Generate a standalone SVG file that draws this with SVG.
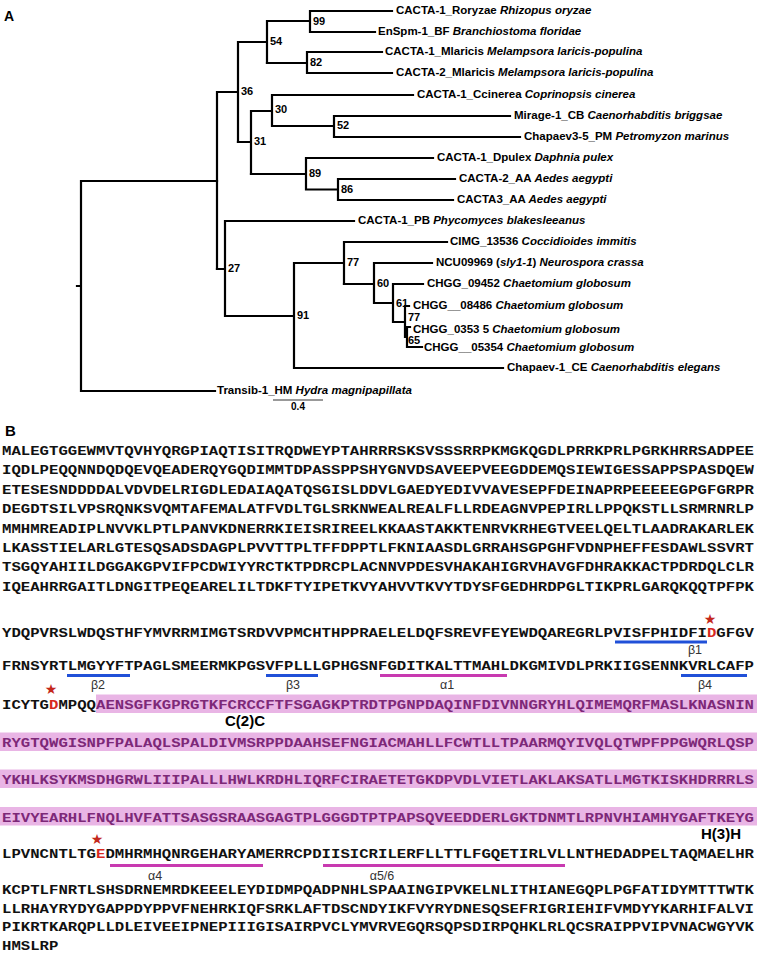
<svg xmlns="http://www.w3.org/2000/svg" width="757" height="955" viewBox="0 0 757 955">
<style>
.br{stroke:#000;stroke-width:2.2;fill:none;stroke-linecap:square}
.tx{font-family:"Liberation Sans",Arial,sans-serif;font-weight:bold;font-size:11.5px;fill:#000}
.sp{font-style:italic}
.bs{font-family:"Liberation Sans",Arial,sans-serif;font-weight:bold;font-size:11px;fill:#000}
.pl{font-family:"Liberation Sans",Arial,sans-serif;font-weight:bold;fill:#000}
.seq{font-family:"Liberation Mono","Courier New",monospace;font-weight:bold;font-size:12.5px;fill:#111}
.hl{fill:#e9b5e5}
.pk{fill:#7d2878}
.rd{fill:#d8281e}
.star{font-family:"DejaVu Sans",sans-serif;font-size:14px;fill:#c4281c;text-anchor:middle}
.lab{font-family:"Liberation Sans",Arial,sans-serif;font-size:12.5px;fill:#333;text-anchor:middle}
.bb{stroke:#2050d8;stroke-width:3}
.ab{stroke:#c83ab0;stroke-width:3}
</style>

<text class="pl" x="4" y="21" font-size="14">A</text>

<g id="branches">
<path class="br" d="M77,286H81M81,181V391M81,181H217M81,391H215"/>
<path class="br" d="M217,92V269M217,92H238M238,42V142M238,42H267M267,21V63M267,21H310M310,11V32M310,11H392M310,32H375"/>
<path class="br" d="M267,63H307M307,52V73M307,52H382M307,73H392"/>
<path class="br" d="M238,142H251M251,111V174M251,111H272M272,95V126M272,95H413M272,126H334M334,116V137M334,116H510M334,137H520"/>
<path class="br" d="M251,174H306M306,158V189.5M306,158H433M306,189.5H338M338,179V200M338,179H455M338,200H453"/>
<path class="br" d="M217,269H225M225,221V316M225,221H354M225,316H294M294,263V368M294,368H503M294,263H344M344,242V284M344,242H447"/>
<path class="br" d="M344,284H374M374,263V303M374,263H432M374,303H393M393,284V322M393,284H423M393,322H405M405,306V337M405,306H409M405,337H407M407,327V347M407,327H410M407,347H422"/>
<line x1="273" y1="400" x2="323" y2="400" stroke="#777" stroke-width="1.5"/>
</g>

<g id="scale"><text class="pl" x="298" y="410" font-size="10" fill="#333" text-anchor="middle">0.4</text></g>

<g id="t1"><text class="tx" x="396" y="14">CACTA-1_Roryzae <tspan class="sp">Rhizopus oryzae</tspan></text></g>
<g id="t2"><text class="tx" x="378" y="35">EnSpm-1_BF <tspan class="sp">Branchiostoma floridae</tspan></text></g>
<g id="t3"><text class="tx" x="385" y="55">CACTA-1_Mlaricis <tspan class="sp">Melampsora laricis-populina</tspan></text></g>
<g id="t4"><text class="tx" x="396" y="76">CACTA-2_Mlaricis <tspan class="sp">Melampsora laricis-populina</tspan></text></g>
<g id="t5"><text class="tx" x="417" y="98">CACTA-1_Ccinerea <tspan class="sp">Coprinopsis cinerea</tspan></text></g>
<g id="t6"><text class="tx" x="514" y="119">Mirage-1_CB <tspan class="sp">Caenorhabditis briggsae</tspan></text></g>
<g id="t7"><text class="tx" x="524" y="140">Chapaev3-5_PM <tspan class="sp">Petromyzon marinus</tspan></text></g>
<g id="t8"><text class="tx" x="437" y="161">CACTA-1_Dpulex <tspan class="sp">Daphnia pulex</tspan></text></g>
<g id="t9"><text class="tx" x="459" y="182">CACTA-2_AA <tspan class="sp">Aedes aegypti</tspan></text></g>
<g id="t10"><text class="tx" x="457" y="203">CACTA3_AA <tspan class="sp">Aedes aegypti</tspan></text></g>
<g id="t11"><text class="tx" x="358" y="224">CACTA-1_PB <tspan class="sp">Phycomyces blakesleeanus</tspan></text></g>
<g id="t12"><text class="tx" x="450" y="245">CIMG_13536 <tspan class="sp">Coccidioides immitis</tspan></text></g>
<g id="t13"><text class="tx" x="436" y="266">NCU09969 (<tspan class="sp">sly1-1</tspan>) <tspan class="sp">Neurospora crassa</tspan></text></g>
<g id="t14"><text class="tx" x="427" y="287">CHGG_09452 <tspan class="sp">Chaetomium globosum</tspan></text></g>
<g id="t15"><text class="tx" x="413" y="308.5">CHGG__08486 <tspan class="sp">Chaetomium globosum</tspan></text></g>
<g id="t16"><text class="tx" x="413" y="332.5">CHGG_0353 5 <tspan class="sp">Chaetomium globosum</tspan></text></g>
<g id="t17"><text class="tx" x="424" y="351">CHGG__05354 <tspan class="sp">Chaetomium globosum</tspan></text></g>
<g id="t18"><text class="tx" x="507" y="371">Chapaev-1_CE <tspan class="sp">Caenorhabditis elegans</tspan></text></g>
<g id="t19"><text class="tx" x="217" y="394">Transib-1_HM <tspan class="sp">Hydra magnipapillata</tspan></text></g>

<g id="n99"><text class="bs" x="313" y="24.5">99</text></g>
<g id="n54"><text class="bs" x="270" y="45">54</text></g>
<g id="n82"><text class="bs" x="310" y="66">82</text></g>
<g id="n36"><text class="bs" x="241" y="95">36</text></g>
<g id="n30"><text class="bs" x="275" y="113">30</text></g>
<g id="n52"><text class="bs" x="337" y="129">52</text></g>
<g id="n31"><text class="bs" x="254" y="145">31</text></g>
<g id="n89"><text class="bs" x="309" y="177">89</text></g>
<g id="n86"><text class="bs" x="341" y="193">86</text></g>
<g id="n27"><text class="bs" x="228" y="272">27</text></g>
<g id="n91"><text class="bs" x="297" y="319">91</text></g>
<g id="n77"><text class="bs" x="347" y="266">77</text></g>
<g id="n60"><text class="bs" x="377" y="287">60</text></g>
<g id="n61"><text class="bs" x="396" y="307">61</text></g>
<g id="n77b"><text class="bs" x="408" y="320.5" font-size="10">77</text></g>
<g id="n65"><text class="bs" x="408" y="343.5" font-size="10">65</text></g>

<text class="pl" x="5" y="436" font-size="15">B</text>

<!-- highlight bands -->
<rect class="hl" x="96" y="694.5" width="661" height="18.5"/>
<rect class="hl" x="0" y="732.5" width="757" height="18.5"/>
<rect class="hl" x="0" y="769.5" width="757" height="18.5"/>
<rect class="hl" x="0" y="807" width="757" height="18.5"/>

<g class="seq">
<text x="2" y="454.5" textLength="752" lengthAdjust="spacingAndGlyphs">MALEGTGGEWMVTQVHYQRGPIAQTISITRQDWEYPTAHRRRSKSVSSSRRPKMGKQGDLPRRKPRLPGRKHRRSADPEE</text>
<text x="2" y="474" textLength="752" lengthAdjust="spacingAndGlyphs">IQDLPEQQNNDQDQEVQEADERQYGQDIMMTDPASSPPSHYGNVDSAVEEPVEEGDDEMQSIEWIGESSAPPSPASDQEW</text>
<text x="2" y="493.5" textLength="752" lengthAdjust="spacingAndGlyphs">ETESESNDDDDALVDVDELRIGDLEDAIAQATQSGISLDDVLGAEDYEDIVVAVESEPFDEINAPRPEEEEEGPGFGRPR</text>
<text x="2" y="513" textLength="752" lengthAdjust="spacingAndGlyphs">DEGDTSILVPSRQNKSVQMTAFEMALATFVDLTGLSRKNWEALREALFLLRDEAGNVPEPIRLLPPQKSTLLSRMRNRLP</text>
<text x="2" y="532.5" textLength="752" lengthAdjust="spacingAndGlyphs">MMHMREADIPLNVVKLPTLPANVKDNERRKIEISRIREELKKAASTAKKTENRVKRHEGTVEELQELTLAADRAKARLEK</text>
<text x="2" y="552" textLength="752" lengthAdjust="spacingAndGlyphs">LKASSTIELARLGTESQSADSDAGPLPVVTTPLTFFDPPTLFKNIAASDLGRRAHSGPGHFVDNPHEFFESDAWLSSVRT</text>
<text x="2" y="571" textLength="752" lengthAdjust="spacingAndGlyphs">TSGQYAHIILDGGAKGPVIFPCDWIYYRCTKTPDRCPLACNNVPDESVHAKAHIGRVHAVGFDHRAKKACTPDRDQLCLR</text>
<text x="2" y="590.5" textLength="752" lengthAdjust="spacingAndGlyphs">IQEAHRRGAITLDNGITPEQEARELILTDKFTYIPETKVYAHVVTKVYTDYSFGEDHRDPGLTIKPRLGARQKQQTPFPK</text>
<text x="2" y="637" textLength="752" lengthAdjust="spacingAndGlyphs">YDQPVRSLWDQSTHFYMVRRMIMGTSRDVVPMCHTHPPRAELELDQFSREVFEYEWDQAREGRLPVISFPHIDFI<tspan class="rd">D</tspan>GFGV</text>
<text x="2" y="670" textLength="752" lengthAdjust="spacingAndGlyphs">FRNSYRTLMGYYFTPAGLSMEERMKPGSVFPLLLGPHGSNFGDITKALTTMAHLDKGMIVDLPRKIIGSENNKVRLCAFP</text>
<text x="2" y="709" textLength="752" lengthAdjust="spacingAndGlyphs">ICYTG<tspan class="rd">D</tspan>MPQQ<tspan class="pk">AENSGFKGPRGTKFCRCCFTFSGAGKPTRDTPGNPDAQINFDIVNNGRYHLQIMEMQRFMASLKNASNIN</tspan></text>
<text class="pk" x="2" y="747" textLength="752" lengthAdjust="spacingAndGlyphs">RYGTQWGISNPFPALAQLSPALDIVMSRPPDAAHSEFNGIACMAHLLFCWTLLTPAARMQYIVQLQTWPFPPGWQRLQSP</text>
<text class="pk" x="2" y="784" textLength="752" lengthAdjust="spacingAndGlyphs">YKHLKSYKMSDHGRWLIIIPALLLHWLKRDHLIQRFCIRAETETGKDPVDLVIETLAKLAKSATLLMGTKISKHDRRRLS</text>
<text class="pk" x="2" y="821.5" textLength="752" lengthAdjust="spacingAndGlyphs">EIVYEARHLFNQLHVFATTSASGSRAASGAGTPLGGGDTPTPAPSQVEEDDERLGKTDNMTLRPNVHIAMHYGAFTKEYG</text>
<text x="2" y="857.5" textLength="752" lengthAdjust="spacingAndGlyphs">LPVNCNTLTG<tspan class="rd">E</tspan>DMHRMHQNRGEHARYAMERRCPDIISICRILERFLLTTLFGQETIRLVLLNTHEDADPELTAQMAELHR</text>
<text x="2" y="894" textLength="752" lengthAdjust="spacingAndGlyphs">KCPTLFNRTLSHSDRNEMRDKEEELEYDIDMPQADPNHLSPAAINGIPVKELNLITHIANEGQPLPGFATIDYMTTTWTK</text>
<text x="2" y="912.5" textLength="752" lengthAdjust="spacingAndGlyphs">LLRHAYRYDYGAPPDYPPVFNEHRKIQFSRKLAFTDSCNDYIKFVYRYDNESQSEFRIGRIEHIFVMDYYKARHIFALVI</text>
<text x="2" y="931" textLength="752" lengthAdjust="spacingAndGlyphs">PIKRTKARQPLLDLEIVEEIPNEPIIIGISAIRPVCLYMVRVEGQRSQPSDIRPQHKLRLQCSRAIPPVIPVNACWGYVK</text>
<text x="2" y="949.5" textLength="56.4" lengthAdjust="spacingAndGlyphs">HMSLRP</text>
</g>

<g id="stars">
<text class="star" x="710" y="623.5">★</text>
<text class="star" x="51" y="694">★</text>
<text class="star" x="97" y="844">★</text>
</g>

<g id="bars">
<line class="bb" x1="615" y1="642" x2="707" y2="642"/>
<line class="bb" x1="67" y1="675.5" x2="130" y2="675.5"/>
<line class="bb" x1="266" y1="675.5" x2="318" y2="675.5"/>
<line class="ab" x1="380" y1="675.5" x2="507" y2="675.5"/>
<line class="bb" x1="681" y1="675.5" x2="747" y2="675.5"/>
<line class="ab" x1="110" y1="865.5" x2="263" y2="865.5"/>
<line class="ab" x1="323" y1="865.5" x2="565" y2="865.5"/>
</g>

<g id="labels">
<text class="lab" x="695" y="654">β1</text>
<text class="lab" x="98" y="688.5">β2</text>
<text class="lab" x="293" y="688.5">β3</text>
<text class="lab" x="447" y="688.5">α1</text>
<text class="lab" x="705" y="688.5">β4</text>
<text class="lab" x="155" y="880">α4</text>
<text class="lab" x="382" y="880">α5/6</text>
<text class="pl" x="245" y="726" font-size="15" text-anchor="middle">C(2)C</text>
<text class="pl" x="721" y="839" font-size="15" text-anchor="middle">H(3)H</text>
</g>
</svg>
